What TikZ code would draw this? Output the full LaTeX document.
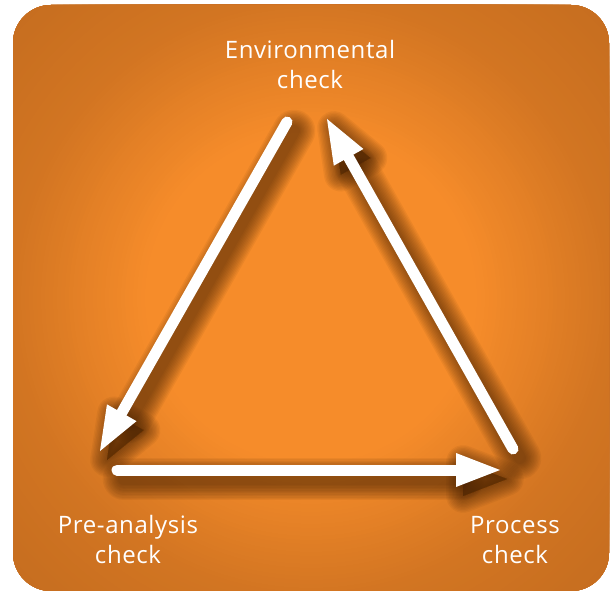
\documentclass[tikz,border=0pt]{standalone}
\usepackage{fontspec}
\setmainfont[LetterSpace=2.5]{Open Sans}
\usetikzlibrary{calc}
\definecolor{obright}{HTML}{F68C2A}
\definecolor{oedge}{HTML}{D27522}
\definecolor{odarker}{HTML}{C56D1F}
\definecolor{shadowc}{HTML}{4A2404}
\tikzset{
  label/.style={text=white, align=center, inner sep=0pt, font=\fontsize{24}{30}\selectfont},
  shaft/.style={white, line width=11pt, line cap=round},
  head/.style={fill=white},
}
\newcommand\arrowgeom[3]{% id, tail, tip
  \coordinate (t#1) at #2;
  \coordinate (h#1) at #3;
  \coordinate (c#1) at ($(h#1)!44pt!(t#1)$);
  \coordinate (l#1) at ($(c#1)!17pt!90:(h#1)$);
  \coordinate (r#1) at ($(c#1)!17pt!-90:(h#1)$);
}
\newcommand\arrowshadow[1]{%
  \foreach \k in {1,...,12}{
    \draw[shadowc, opacity=0.065, line width={9pt+2.8pt*\k}, line cap=round, line join=round]
      ($(t#1)+(7,9)$) -- ($(c#1)+(7,9)$);
    \draw[shadowc, opacity=0.065, fill=shadowc, line width={2.8pt*\k}, line join=round]
      ($(h#1)+(7,9)$) -- ($(l#1)+(7,9)$) -- ($(r#1)+(7,9)$) -- cycle;
  }
}
\newcommand\whitearrow[1]{%
  \draw[shaft] (t#1) -- (c#1);
  \fill[head] (h#1) -- (l#1) -- (r#1) -- cycle;
}
\begin{document}
\begin{tikzpicture}[x=1pt,y=-1pt]
\useasboundingbox (0,0) rectangle (614,591);
\begin{scope}
  \clip[rounded corners=38pt] (13,5) rectangle (609,591);
  \fill[odarker] (13,5) rectangle (609,591);
  \foreach \r in {420,416,...,300}{
    \pgfmathsetmacro\p{(420-\r)/120*100}
    \colorlet{cc}{oedge!\p!odarker}
    \fill[cc] (311,298) circle (\r);
  }
  \foreach \r in {298,294,...,166}{
    \pgfmathsetmacro\p{(300-\r)/134*100}
    \colorlet{cc}{obright!\p!oedge}
    \fill[cc] (311,298) circle (\r);
  }
\end{scope}
\arrowgeom{1}{(287,122)}{(100,451)}
\arrowgeom{2}{(117,470)}{(500,470)}
\arrowgeom{3}{(513,449)}{(327,119)}
\arrowshadow{1}
\arrowshadow{2}
\arrowshadow{3}
\whitearrow{1}
\whitearrow{2}
\whitearrow{3}
\node[label, anchor=base] (env) at (310,89) {Environmental\\check};
\node[label, anchor=base] (pre) at (128,563) {Pre-analysis\\check};
\node[label, anchor=base] (proc) at (515,563) {Process\\check};
\end{tikzpicture}
\end{document}
